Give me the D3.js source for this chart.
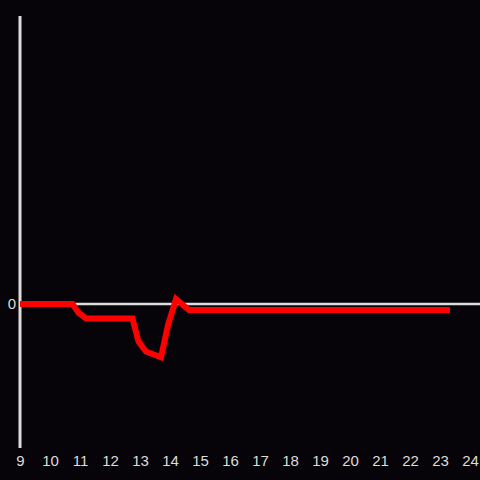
<!DOCTYPE html>
<html>
<head>
<meta charset="utf-8">
<script src="https://cdn.jsdelivr.net/npm/d3@7"></script>
<style>
  html, body { margin: 0; padding: 0; background: #060408; }
  svg { display: block; }
</style>
</head>
<body>
<div id="chart"></div>
<script>
// hour of day vs value
const hours = [9, 10.75, 10.95, 11.2, 12.75, 12.95, 13.2, 13.7, 13.93, 14.2, 14.63, 23.33];
const values = [0, 0, -0.06, -0.1, -0.1, -0.26, -0.33, -0.37, -0.15, 0.035, -0.042, -0.042];
const xTicks = [9, 10, 11, 12, 13, 14, 15, 16, 17, 18, 19, 20, 21, 22, 23, 24];
const yTicks = [0];

const width = 480, height = 480;
const margin = {top: 16, right: 0, bottom: 32, left: 20};

const svg = d3.select("#chart")
  .append("svg")
  .attr("width", width)
  .attr("height", height);

svg.append("rect")
  .attr("width", width)
  .attr("height", height)
  .attr("fill", "#060408");

const x = d3.scaleLinear().domain([9, 24.333]).range([margin.left, width - margin.right]);
const y = d3.scaleLinear().domain([-1, 2]).range([height - margin.bottom, margin.top]);

// x labels along the bottom
const xAxis = svg.append("g")
  .attr("transform", "translate(0," + (height - margin.bottom) + ")")
  .call(d3.axisBottom(x).tickValues(xTicks).tickSize(0).tickPadding(7).tickFormat(d3.format("d")));
xAxis.select(".domain").remove();
xAxis.selectAll("text")
  .attr("fill", "#dcdcdc")
  .style("font-family", "'Liberation Sans', Arial, sans-serif")
  .style("font-size", "15px");

// y labels
const yAxis = svg.append("g")
  .attr("transform", "translate(" + margin.left + ",0)")
  .call(d3.axisLeft(y).tickValues(yTicks).tickSize(0).tickPadding(4).tickFormat(d3.format("d")));
yAxis.select(".domain").remove();
yAxis.selectAll("text")
  .attr("fill", "#dcdcdc")
  .style("font-family", "'Liberation Sans', Arial, sans-serif")
  .style("font-size", "15px");

// zero line
svg.append("line")
  .attr("x1", x(9)).attr("x2", width)
  .attr("y1", y(0)).attr("y2", y(0))
  .attr("stroke", "#dcdcdc")
  .attr("stroke-width", 2.5);

// vertical axis
svg.append("line")
  .attr("x1", x(9)).attr("x2", x(9))
  .attr("y1", margin.top).attr("y2", height - margin.bottom)
  .attr("stroke", "#dcdcdc")
  .attr("stroke-width", 3);

const line = d3.line()
  .x((d, i) => x(hours[i]))
  .y(d => y(d));

svg.append("path")
  .datum(values)
  .attr("fill", "none")
  .attr("stroke", "#ff0000")
  .attr("stroke-width", 6)
  .attr("stroke-linejoin", "miter")
  .attr("d", line);
</script>
</body>
</html>
